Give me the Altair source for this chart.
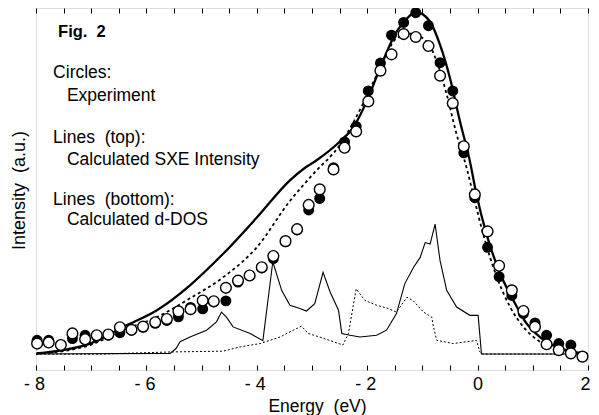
import altair as alt
import pandas as pd

# ---------------- data ----------------
exp_energy = [-7.98, -7.77, -7.55, -7.34, -7.11, -6.90, -6.69, -6.48, -6.27, -6.06,
              -5.84, -5.63, -5.42, -5.20, -4.98, -4.78, -4.56, -4.34, -4.13, -3.91,
              -3.70, -3.48, -3.27, -3.06, -2.86, -2.61, -2.41, -2.20, -1.98, -1.76,
              -1.56, -1.34, -1.12, -0.89, -0.68, -0.45, -0.25, -0.05, 0.18, 0.39,
              0.62, 0.83, 1.04, 1.25, 1.47, 1.69, 1.90]
exp_open = [7.3, 7.6, 6.9, 10.1, 8.5, 9.6, 9.8, 11.8, 11.1, 12.0,
            13.2, 14.1, 16.2, 16.8, 19.2, 19.0, 22.7, 24.7, 26.1, 28.4,
            31.5, 35.6, 38.9, 45.6, 49.9, 55.4, 61.4, 65.9, 74.2, 82.7,
            87.2, 92.8, 92.0, 89.5, 81.3, 73.7, 61.8, 48.5, 38.3, 28.8,
            22.0, 16.3, 11.9, 7.1, 5.5, 4.6, 3.7]
exp_filled = [8.2, 8.2, 6.9, 8.7, 9.6, 9.3, 9.6, 10.3, 11.0, 11.8,
              12.9, 13.7, 14.7, 17.3, 16.9, 18.8, 19.1, 24.3, 26.0, 28.2,
              30.8, 35.4, 38.7, 44.2, 47.4, 55.9, 63.0, 67.3, 77.1, 84.8,
              92.5, 96.0, 98.7, 95.1, 84.9, 77.1, 60.0, 47.6, 33.9, 25.8,
              20.6, 15.6, 13.0, 9.6, 7.3, 6.9, 3.7]

sxe_solid_e = [-7.99, -7.51, -7.02, -6.42, -5.81, -5.21, -4.61, -4.00, -3.40, -3.15,
               -2.91, -2.49, -2.26, -2.01, -1.77, -1.47, -1.28, -1.12, -0.86, -0.68,
               -0.50, -0.32, -0.14, -0.02, 0.16, 0.41, 0.65, 0.89, 1.13, 1.43, 1.73, 2.00]
sxe_solid_i = [4.6, 5.5, 7.3, 11.9, 16.5, 23.4, 32.1, 42.1, 52.4, 55.6,
               58.0, 63.2, 66.8, 74.2, 83.3, 93.4, 97.1, 98.9, 96.2, 89.8,
               80.6, 68.7, 57.7, 48.5, 37.6, 26.6, 19.2, 12.8, 9.1, 6.4, 5.0, 4.4]

sxe_dot_e = [-7.99, -7.51, -7.02, -6.42, -5.81, -5.21, -4.61, -4.00, -3.40, -2.98,
             -2.49, -2.08, -1.77, -1.47, -1.22, -0.92, -0.74, -0.56, -0.38, -0.20,
             -0.08, 0.10, 0.35, 0.59, 0.83, 1.13, 1.49, 2.00]
sxe_dot_i = [4.6, 5.2, 6.9, 11.0, 14.6, 19.8, 25.6, 33.9, 46.7, 54.1,
             62.3, 73.4, 83.3, 91.6, 92.9, 90.7, 85.2, 76.1, 65.1, 55.9,
             48.5, 37.6, 25.6, 17.4, 11.9, 7.8, 5.5, 4.6]

dos_solid_e = [-8.00, -5.57, -5.46, -5.39, -5.21, -4.91, -4.73, -4.64, -4.55, -4.43,
               -4.12, -3.89, -3.71, -3.55, -3.40, -3.22, -3.10, -2.95, -2.80, -2.67,
               -2.52, -2.46, -2.31, -2.13, -1.83, -1.65, -1.47, -1.32, -1.16, -1.04,
               -0.95, -0.86, -0.77, -0.68, -0.56, -0.38, -0.14, 0.01, 0.07, 2.00]
dos_solid_i = [4.4, 4.6, 6.0, 7.8, 9.1, 11.0, 13.3, 16.0, 14.6, 11.9,
               10.1, 8.1, 29.9, 22.0, 17.9, 17.0, 16.3, 18.3, 27.0, 21.5,
               16.5, 10.1, 9.6, 9.1, 9.6, 11.0, 15.6, 23.8, 28.4, 31.1,
               35.2, 34.8, 40.3, 30.2, 22.0, 17.4, 15.1, 15.1, 4.4, 4.4]

dos_dot_e = [-8.00, -6.84, -5.51, -4.61, -4.30, -3.94, -3.58, -3.34, -3.19, -3.07,
             -2.86, -2.61, -2.44, -2.34, -2.20, -2.04, -1.83, -1.62, -1.47, -1.28,
             -1.17, -0.98, -0.83, -0.80, -0.74, -0.44, -0.02, 0.04, 0.08, 2.00]
dos_dot_i = [4.4, 4.4, 5.0, 5.2, 6.4, 7.3, 9.1, 11.0, 12.1, 10.1,
             9.1, 7.8, 6.9, 10.1, 22.4, 19.2, 17.9, 17.0, 16.0, 20.1,
             19.2, 16.0, 14.6, 11.9, 8.2, 7.3, 8.2, 5.0, 4.4, 4.4]

NB = "\u00a0"
legend_text = ["Circles:", "Experiment", f"Lines{NB}{NB}(top):", "Calculated SXE Intensity",
               f"Lines{NB}{NB}(bottom):", "Calculated d-DOS"]
legend_e = [-7.69, -7.44, -7.69, -7.44, -7.69, -7.44]
legend_i = [80.6, 74.2, 62.7, 56.6, 45.6, 40.1]
fig_label = [f"Fig.{NB}{NB}2"]
fig_e = [-7.60]
fig_i = [92.0]

tick_values = [-8 + 0.5 * k for k in range(21)]

# ---------------- frames ----------------
df_exp = pd.DataFrame({"E": exp_energy, "open": exp_open, "filled": exp_filled})
df_sxe_s = pd.DataFrame({"E": sxe_solid_e, "I": sxe_solid_i})
df_sxe_d = pd.DataFrame({"E": sxe_dot_e, "I": sxe_dot_i})
df_dos_s = pd.DataFrame({"E": dos_solid_e, "I": dos_solid_i})
df_dos_d = pd.DataFrame({"E": dos_dot_e, "I": dos_dot_i})
df_leg = pd.DataFrame({"E": legend_e, "I": legend_i, "t": legend_text})
df_fig = pd.DataFrame({"E": fig_e, "I": fig_i, "t": fig_label})

FONT = "Liberation Sans"
xscale = alt.Scale(domain=[-8, 2], nice=False, zero=False)
yscale = alt.Scale(domain=[0, 100], nice=False, zero=False)

xaxis = alt.Axis(values=tick_values, offset=-5, tickSize=5, domain=False, grid=False,
                 tickColor="black", tickWidth=1,
                 labelExpr="datum.value % 2 == 0 ? (datum.value < 0 ? '-\u00a0' + abs(datum.value) : '' + datum.value) : ''",
                 labelOffset=alt.ExprRef("datum.value == 2 ? -3 : (datum.value < 0 ? -2 : 0)"),
                 labelFont=FONT, labelFontSize=18, labelColor="black", labelPadding=5,
                 labelFlush=False, labelOverlap=False, labelBound=False,
                 title=f"Energy{NB}{NB}(eV)", titleFont=FONT, titleFontSize=17.5,
                 titleFontWeight="normal", titleColor="black", titleBaseline="alphabetic",
                 titleAlign="center", titleX=281, titleY=46)
yaxis = alt.Axis(ticks=False, labels=False, domain=False, grid=False,
                 title=f"Intensity{NB}{NB}(a.u.)", titleFont=FONT, titleFontSize=18,
                 titleFontWeight="normal", titleColor="black", titleAngle=270,
                 titleBaseline="alphabetic", titleAlign="center", titleX=-12, titleY=182)

X = alt.X("E:Q", scale=xscale, axis=xaxis)
Y = lambda f: alt.Y(f"{f}:Q", scale=yscale, axis=yaxis)

dos_dot = alt.Chart(df_dos_d).mark_line(color="black", strokeWidth=1, strokeDash=[2, 2]).encode(
    x=X, y=Y("I"), order="E:Q")
dos_solid = alt.Chart(df_dos_s).mark_line(color="black", strokeWidth=1.1).encode(
    x=X, y=Y("I"), order="E:Q")
sxe_dot = alt.Chart(df_sxe_d).mark_line(color="black", strokeWidth=1.8, strokeDash=[3, 3],
                                        interpolate="monotone").encode(x=X, y=Y("I"))
sxe_solid = alt.Chart(df_sxe_s).mark_line(color="black", strokeWidth=2.3,
                                          interpolate="monotone").encode(x=X, y=Y("I"))
filled = alt.Chart(df_exp).mark_point(shape="circle", filled=True, color="black", size=120,
                                      opacity=1).encode(x=X, y=Y("filled"))
opened = alt.Chart(df_exp).mark_point(shape="circle", filled=True, fill="white", stroke="black",
                                      strokeWidth=1.4, size=115, opacity=1,
                                      fillOpacity=1).encode(x=X, y=Y("open"))
leg = alt.Chart(df_leg).mark_text(align="left", baseline="alphabetic", font=FONT, fontSize=17.5,
                                  color="black").encode(x=X, y=Y("I"), text="t:N")
fig = alt.Chart(df_fig).mark_text(align="left", baseline="alphabetic", font=FONT, fontSize=16.5,
                                  fontWeight="bold", color="black").encode(x=X, y=Y("I"), text="t:N")

base = alt.layer(dos_dot, dos_solid, sxe_dot, sxe_solid, filled, opened, leg, fig)

top_ticks = alt.Chart(df_exp).mark_point(opacity=0).encode(
    x=alt.X("E:Q", scale=xscale,
            axis=alt.Axis(orient="top", values=tick_values, offset=-5, tickSize=5, domain=False,
                          labels=False, grid=False, title=None, tickColor="black", tickWidth=1)),
    y=alt.Y("open:Q", scale=yscale, axis=None))

chart = alt.layer(base, top_ticks).resolve_axis(x="independent", y="independent").properties(
    width=552, height=362,
    autosize=alt.AutoSizeParams(type="none"),
    padding={"left": 28, "top": 0, "right": 3, "bottom": 45},
).configure_view(stroke="black", strokeWidth=1.4).configure(background="white")

chart.save("out.html", embed_options={"renderer": "svg", "actions": False})
